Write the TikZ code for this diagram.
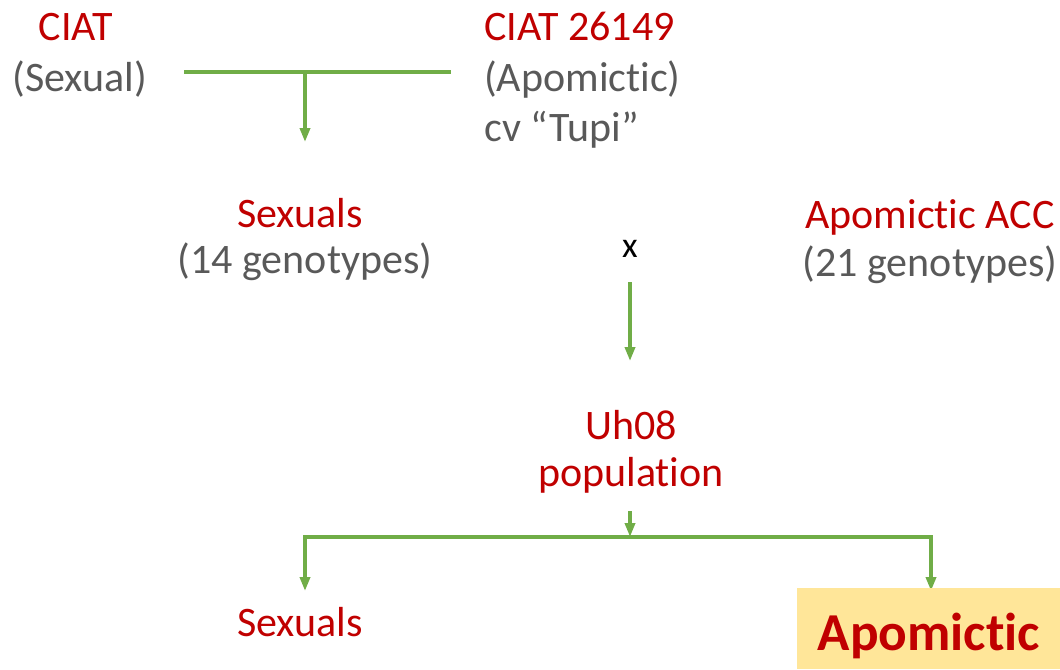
\documentclass[tikz,border=0pt]{standalone}
\usepackage{fontspec}
\setmainfont{Carlito}[Ligatures={NoCommon},RawFeature={-liga;-dlig}]
\usetikzlibrary{arrows.meta}
\definecolor{dred}{HTML}{C00000}
\definecolor{tgrey}{HTML}{595959}
\definecolor{lgreen}{HTML}{70AD47}
\definecolor{hlyellow}{HTML}{FFE699}
\begin{document}
\begin{tikzpicture}[x=0.75pt,y=-0.75pt,
  lbl/.style={font=\fontsize{31.5}{38}\selectfont, inner sep=0pt, anchor=base},
  redt/.style={lbl, text=dred},
  greyt/.style={lbl, text=tgrey},
  conn/.style={draw=lgreen, line width=2.6pt},
  arr/.style={conn, -{Triangle[width=7.5pt,length=10.5pt]}}]
\useasboundingbox (0,0) rectangle (1060,669);
% top parents
\node[redt] (ciat) at (76,40) {CIAT};
\node[greyt] (sexual) at (80,91) {(Sexual)};
\node[redt, anchor=base west] (ciat2) at (484,40) {CIAT 26149};
\node[greyt, anchor=base west] (apo) at (484,91) {(Apomictic)};
\node[greyt, anchor=base west] (tupi) at (484,141) {cv “Tupi”};
\coordinate (crossL) at (184,72);
\coordinate (crossR) at (451,72);
\coordinate (crossM) at (305,72);
\draw[conn] (crossL) -- (crossR);
% middle
\node[redt] (sexm) at (300,227) {Sexuals};
\node[greyt] (g14) at (305,273) {(14 genotypes)};
\node[lbl, font=\fontsize{27}{32}\selectfont] (x) at (630,257) {x};
\node[redt] (acc) at (930,228) {Apomictic ACC};
\node[greyt] (g21) at (930,276) {(21 genotypes)};
\coordinate (top1) at (305,142);
\draw[arr] (crossM) -- (top1);
\coordinate (xs) at (630,282);
\coordinate (xe) at (630,361);
\draw[arr] (xs) -- (xe);
% population
\node[redt] (uh) at (631,439) {Uh08};
\node[redt] (pop) at (631,486) {population};
\coordinate (ps) at (630,511);
\coordinate (pe) at (630,537);
\draw[arr] (ps) -- (pe);
\coordinate (bl) at (305,537);
\coordinate (br) at (931,537);
\coordinate (blend) at (305,591);
\coordinate (brend) at (931,591);
\draw[conn, line cap=rect] (bl) -- (br);
\draw[arr] (bl) -- (blend);
\draw[arr] (br) -- (brend);
% bottom
\node[redt] (sexb) at (300,636) {Sexuals};
\fill[hlyellow] (797,588) rectangle (1060,669);
\node[lbl, text=dred, font=\fontsize{40}{48}\selectfont\bfseries] (apob) at (929,650) {Apomictic};
\end{tikzpicture}
\end{document}
